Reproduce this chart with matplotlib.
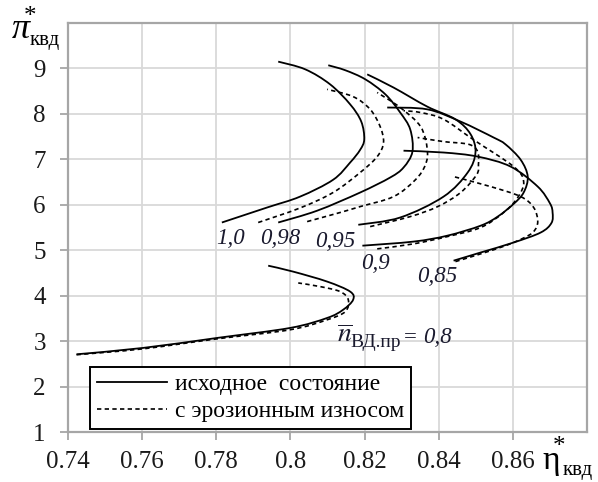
import matplotlib
matplotlib.use("Agg")
import matplotlib.pyplot as plt
import numpy as np
from matplotlib.path import Path
from matplotlib.patches import PathPatch
from matplotlib.lines import Line2D

plt.rcParams['font.family'] = ['Liberation Serif', 'DejaVu Serif']
plt.rcParams['mathtext.fontset'] = 'stix'

# speed lines: (eta, pi) from choke end up to surge end
n100_eta = [0.7815, 0.7937, 0.8026, 0.8115, 0.8161, 0.8188, 0.8199, 0.8191, 0.8161, 0.8107, 0.8040, 0.7967]
n100_pi = [5.61, 5.94, 6.18, 6.55, 6.93, 7.21, 7.44, 7.83, 8.21, 8.65, 8.98, 9.15]
n100e_eta = [0.7913, 0.8026, 0.8115, 0.8188, 0.8234, 0.8251, 0.8242, 0.8215, 0.8169, 0.8099]
n100e_pi = [5.61, 5.93, 6.27, 6.71, 7.06, 7.37, 7.72, 8.10, 8.38, 8.54]

n098_eta = [0.7967, 0.8072, 0.8188, 0.8269, 0.8305, 0.8329, 0.8323, 0.8296, 0.8256, 0.8202, 0.8148, 0.8102]
n098_pi = [5.61, 5.87, 6.27, 6.60, 6.82, 7.17, 7.66, 8.03, 8.43, 8.76, 8.96, 9.07]
n098e_eta = [0.8045, 0.8134, 0.8188, 0.8278, 0.8337, 0.8364, 0.8369, 0.8351, 0.8296, 0.8234]
n098e_pi = [5.63, 5.83, 5.96, 6.18, 6.55, 6.88, 7.22, 7.72, 8.14, 8.47]

n095_eta = [0.8183, 0.8296, 0.8413, 0.8478, 0.8499, 0.8486, 0.8445, 0.8369, 0.8278, 0.8207]
n095_pi = [5.56, 5.72, 6.18, 6.71, 7.15, 7.55, 7.88, 8.16, 8.58, 8.87]
n095e_eta = [0.8215, 0.8323, 0.8397, 0.8459, 0.8502, 0.8507, 0.8505, 0.8481, 0.8413, 0.8343]
n095e_pi = [5.52, 5.74, 5.96, 6.27, 6.66, 6.88, 7.17, 7.33, 7.39, 7.48]

n090_eta = [0.8194, 0.8332, 0.8423, 0.8513, 0.8559, 0.8602, 0.8629, 0.8640, 0.8621, 0.8580, 0.8548, 0.8459, 0.8369, 0.8261]
n090_pi = [5.10, 5.19, 5.32, 5.54, 5.74, 6.02, 6.27, 6.62, 6.99, 7.33, 7.48, 7.83, 8.10, 8.14]
n090e_eta = [0.8234, 0.8332, 0.8423, 0.8513, 0.8575, 0.8613, 0.8629, 0.8602, 0.8494, 0.8413, 0.8351, 0.8305]
n090e_pi = [5.03, 5.14, 5.30, 5.50, 5.83, 6.16, 6.51, 6.84, 7.43, 7.88, 8.03, 8.07]

n085_eta = [0.8440, 0.8513, 0.8602, 0.8675, 0.8704, 0.8707, 0.8700, 0.8667, 0.8594, 0.8505, 0.8413, 0.8305]
n085_pi = [4.77, 4.95, 5.17, 5.39, 5.60, 5.83, 6.03, 6.40, 6.84, 7.06, 7.15, 7.19]
n085e_eta = [0.8445, 0.8513, 0.8580, 0.8629, 0.8656, 0.8667, 0.8656, 0.8621, 0.8540, 0.8440]
n085e_pi = [4.75, 4.92, 5.10, 5.27, 5.41, 5.63, 5.94, 6.18, 6.40, 6.62]

n080_eta = [0.7423, 0.7602, 0.7802, 0.7999, 0.8099, 0.8142, 0.8169, 0.8161, 0.8099, 0.8007, 0.7940]
n080_pi = [2.71, 2.85, 3.07, 3.29, 3.51, 3.69, 3.91, 4.09, 4.31, 4.53, 4.66]
n080e_eta = [0.7423, 0.7602, 0.7802, 0.7999, 0.8099, 0.8148, 0.8156, 0.8134, 0.8080, 0.8021]
n080e_pi = [2.70, 2.83, 3.05, 3.25, 3.47, 3.65, 3.91, 4.09, 4.20, 4.28]

speed_labels = ['1,0', '0,98', '0,95', '0,9', '0,85']
label_eta = [0.7838, 0.7972, 0.8121, 0.8229, 0.8396]
label_pi = [5.25, 5.25, 5.19, 4.70, 4.42]

x_ticks = [0.74, 0.76, 0.78, 0.80, 0.82, 0.84, 0.86]
x_tick_labels = ['0.74', '0.76', '0.78', '0.8', '0.82', '0.84', '0.86']
y_ticks = [1, 2, 3, 4, 5, 6, 7, 8, 9]


def smooth_path(xs, ys):
    # Catmull-Rom through the points, written as cubic Bezier segments
    pts = np.column_stack([xs, ys])
    verts = [pts[0]]
    codes = [Path.MOVETO]
    n = len(pts)
    for i in range(n - 1):
        p0 = pts[i - 1] if i > 0 else pts[i]
        p1 = pts[i]
        p2 = pts[i + 1]
        p3 = pts[i + 2] if i + 2 < n else pts[i + 1]
        verts += [p1 + (p2 - p0) / 6, p2 - (p3 - p1) / 6, p2]
        codes += [Path.CURVE4] * 3
    return Path(verts, codes)


fig = plt.figure(figsize=(5.98, 4.82), dpi=100)
ax = fig.add_axes([0.1137, 0.1037, 0.868, 0.8486])

solid = dict(color='black', lw=1.3)
dashed = dict(color='black', lw=1.2, linestyle=(0, (2.6, 2.0)))

clean = [(n100_eta, n100_pi), (n098_eta, n098_pi), (n095_eta, n095_pi),
         (n090_eta, n090_pi), (n085_eta, n085_pi), (n080_eta, n080_pi)]
worn = [(n100e_eta, n100e_pi), (n098e_eta, n098e_pi), (n095e_eta, n095e_pi),
        (n090e_eta, n090e_pi), (n085e_eta, n085e_pi), (n080e_eta, n080e_pi)]

for e, p in clean:
    ax.add_patch(PathPatch(smooth_path(e, p), fill=False, edgecolor='black', lw=1.3))
for e, p in worn:
    ax.add_patch(PathPatch(smooth_path(e, p), fill=False, edgecolor='black', lw=1.2,
                           linestyle=(0, (2.6, 2.0))))

for t, x, y in zip(speed_labels, label_eta, label_pi):
    ax.text(x, y, t, fontsize=16.5, style='italic', ha='center', va='center', color='#1a1a2e')

# relative speed annotation for the lowest line
ax.text(0.8146, 3.12, r'$\overline{n}$', fontsize=20, ha='center', va='center', color='#1a1a2e')
ax.text(0.8163, 2.97, 'ВД.пр', fontsize=14, ha='left', va='center', color='#1a1a2e')
ax.text(0.8307, 3.07, '=', fontsize=16.5, ha='left', va='center', color='#1a1a2e')
ax.text(0.8357, 3.07, '0,8', fontsize=16.5, style='italic', ha='left', va='center', color='#1a1a2e')

ax.set_xlim(0.74, 0.88)
ax.set_ylim(1, 10)
ax.set_xticks(x_ticks)
ax.set_xticklabels(x_tick_labels)
ax.set_yticks(y_ticks)
ax.grid(True, color='#d9d9d9', lw=1.3)
ax.set_axisbelow(True)
for s in ax.spines.values():
    s.set_color('#a6a6a6')
    s.set_linewidth(1.6)
ax.tick_params(axis='both', direction='out', length=6, width=1.3, color='#a6a6a6',
               labelsize=18, labelcolor='#1a1a1a')
ax.tick_params(axis='y', pad=10)
ax.tick_params(axis='x', pad=8)

handles = [Line2D([], [], **solid), Line2D([], [], **dashed)]
leg = ax.legend(handles, ['исходное  состояние', 'с эрозионным износом'],
                loc='lower left', bbox_to_anchor=(0.042, 0.007), borderaxespad=0,
                fontsize=17, fancybox=False, framealpha=1, edgecolor='black',
                handlelength=2.95, handletextpad=0.35, labelspacing=0.22, borderpad=0.3)
leg.get_frame().set_linewidth(1.4)

# axis titles drawn in figure pixels
fig.text(21 / 598, 1 - 30 / 482, 'π', fontsize=26, style='italic', ha='center', va='center')
fig.text(30 / 598, 1 - 17 / 482, '*', fontsize=18, ha='center', va='center')
fig.text(45 / 598, 1 - 40 / 482, 'квд', fontsize=15, ha='center', va='center')
fig.text(551 / 598, 1 - 461 / 482, 'η', fontsize=24, ha='center', va='center')
fig.text(559 / 598, 1 - 447 / 482, '*', fontsize=18, ha='center', va='center')
fig.text(578 / 598, 1 - 471 / 482, 'квд', fontsize=15, ha='center', va='center')

fig.savefig('out.png', dpi=100)
